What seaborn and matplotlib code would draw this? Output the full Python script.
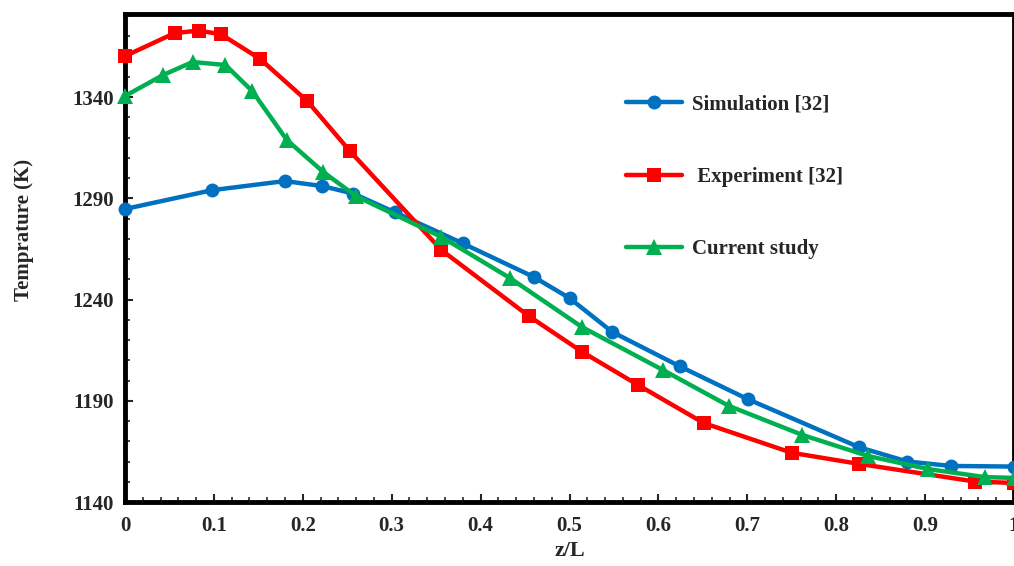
import numpy as np
import pandas as pd
import matplotlib
matplotlib.use("Agg")
import matplotlib.pyplot as plt
from matplotlib.ticker import MultipleLocator
import seaborn as sns

# ---- data ----
sim_x = [0.0, 0.098, 0.18, 0.222, 0.257, 0.304, 0.380, 0.460, 0.500, 0.548, 0.624, 0.701, 0.826, 0.880, 0.929, 1.0]
sim_T = [1284.7, 1294.0, 1298.5, 1296.0, 1292.3, 1283.0, 1267.7, 1251.1, 1240.7, 1224.0, 1207.0, 1190.7, 1167.0, 1160.0, 1157.8, 1157.5]

exp_x = [0.0, 0.056, 0.083, 0.108, 0.152, 0.205, 0.253, 0.356, 0.454, 0.514, 0.577, 0.651, 0.750, 0.826, 0.956, 1.0]
exp_T = [1360.2, 1371.6, 1372.8, 1371.0, 1358.8, 1338.0, 1313.3, 1264.4, 1231.9, 1214.2, 1197.8, 1179.0, 1164.3, 1158.8, 1150.1, 1149.4]

cur_x = [0.0, 0.043, 0.076, 0.113, 0.143, 0.182, 0.223, 0.260, 0.356, 0.433, 0.514, 0.605, 0.679, 0.762, 0.836, 0.903, 0.967, 1.0]
cur_T = [1340.5, 1350.9, 1357.3, 1355.8, 1343.0, 1318.8, 1303.0, 1291.0, 1270.9, 1250.6, 1226.4, 1205.2, 1187.5, 1173.1, 1162.7, 1156.3, 1152.3, 1151.9]

labels = ["Simulation [32]", " Experiment [32]", "Current study"]
colors = ["#0070C0", "#FF0000", "#00B050"]
markers = ["o", "s", "^"]

x_ticks = [0, 0.1, 0.2, 0.3, 0.4, 0.5, 0.6, 0.7, 0.8, 0.9, 1]
x_tick_labels = ["0", "0.1", "0.2", "0.3", "0.4", "0.5", "0.6", "0.7", "0.8", "0.9", "1"]
y_ticks = [1140, 1190, 1240, 1290, 1340]

sns.set_style("ticks")
plt.rcParams["font.family"] = ["Liberation Serif", "DejaVu Serif"]
plt.rcParams["font.weight"] = "bold"

fig = plt.figure(figsize=(10.14, 5.66), dpi=100)
ax = fig.add_axes([125 / 1014, 1 - 502 / 566, 1 - 125 / 1014, (502 - 14) / 566])

series = [(sim_x, sim_T), (exp_x, exp_T), (cur_x, cur_T)]
for (xs, ys), lab, col, mk in zip(series, labels, colors, markers):
    df = pd.DataFrame({"x": xs, "T": ys})
    sns.lineplot(data=df, x="x", y="T", ax=ax, color=col, marker=mk,
                 markersize=10 if mk != "^" else 11, markeredgewidth=0,
                 linewidth=3.2, label=lab, sort=False, clip_on=False, zorder=3)

ax.set_xlim(0, 1)
ax.set_ylim(1140, 1381)
ax.set_xticks(x_ticks)
ax.set_xticklabels(x_tick_labels)
ax.set_yticks(y_ticks)
ax.xaxis.set_minor_locator(MultipleLocator(0.02))
ax.yaxis.set_minor_locator(MultipleLocator(10))
ax.tick_params(which="major", direction="in", length=6, width=1.5, labelsize=15, pad=10)
ax.tick_params(which="minor", direction="in", length=3.5, width=1.2)
ax.tick_params(axis="y", which="major", pad=8)
for lbl in ax.get_xticklabels() + ax.get_yticklabels():
    lbl.set_fontweight("bold")

for sp in ax.spines.values():
    sp.set_linewidth(3.5)
    sp.set_color("black")

ax.set_xlabel("z/L", fontsize=16, fontweight="bold", labelpad=4)
ax.set_ylabel("Temprature (K)", fontsize=15, fontweight="bold")
ax.yaxis.set_label_coords(-0.1025, 0.557)

leg = ax.legend(loc="upper left", bbox_to_anchor=(0.543, 0.873), frameon=False,
                prop={"size": 15, "weight": "bold"}, labelspacing=2.5,
                handlelength=2.65, handletextpad=0.5)

fig.savefig("out.png", dpi=100)
